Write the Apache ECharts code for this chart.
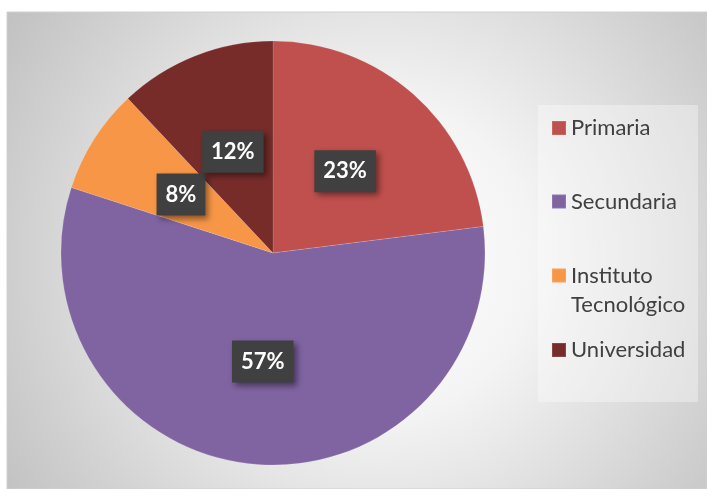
<!DOCTYPE html>
<html>
<head>
<meta charset="utf-8">
<style>
  html, body { margin: 0; padding: 0; background: #fff; }
  #chart { width: 707px; height: 489px; }
</style>
<script src="https://cdn.jsdelivr.net/npm/echarts@6/dist/echarts.min.js"></script>
</head>
<body>
<div id="chart"></div>
<script>
// data
const categories = ['Primaria', 'Secundaria', 'Instituto Tecnológico', 'Universidad']
const values = [23, 57, 8, 12]
const colors = ['#c0504d', '#8064a2', '#f79646', '#772c2a']

const FONT = 'Lato, "Noto Sans", sans-serif'

const chart = echarts.init(document.getElementById('chart'))

// one legend per entry so the rows sit where the original has them
const legendTops = [113.5, 187, 232, 335.5]
const legends = categories.map((name, i) => ({
  data: [name],
  left: 551,
  top: legendTops[i],
  padding: 0,
  itemWidth: 14,
  itemHeight: 14,
  icon: 'rect',
  selectedMode: false,
  // blank first line keeps "Instituto" level with its swatch
  formatter: (n) => (n === 'Instituto Tecnológico' ? ' \nInstituto\nTecnológico' : n),
  textStyle: {
    fontFamily: FONT,
    fontSize: 22,
    color: '#404040',
    lineHeight: 29,
  },
}))

chart.setOption({
  animation: false,
  graphic: [
    {
      type: 'rect',
      z: -10,
      silent: true,
      shape: { x: 7, y: 12, width: 700, height: 477 },
      style: {
        fill: {
          type: 'radial',
          x: 380, y: 260, r: 440,
          global: true,
          colorStops: [
            { offset: 0, color: '#ffffff' },
            { offset: 0.35, color: '#f4f4f4' },
            { offset: 1, color: '#c2c2c2' },
          ],
        },
        stroke: '#d0d0d0',
        lineWidth: 1,
      },
    },
    {
      type: 'rect',
      z: -5,
      silent: true,
      shape: { x: 538, y: 105, width: 160, height: 297 },
      style: { fill: 'rgba(255,255,255,0.35)' },
    },
  ],
  legend: legends,
  series: [
    {
      name: 'Nivel',
      type: 'pie',
      center: [273, 253],
      radius: [0, 212],
      startAngle: 90,
      clockwise: true,
      color: colors,
      data: categories.map((name, i) => ({ name, value: values[i] })),
      itemStyle: {
        borderColor: 'rgba(255,255,255,0.12)',
        borderWidth: 1,
      },
      label: {
        show: true,
        position: 'inside',
        formatter: '{d}%',
        fontFamily: FONT,
        fontSize: 22,
        fontWeight: 'bold',
        color: '#ffffff',
        lineHeight: 22,
        backgroundColor: '#404040',
        padding: [10, 9],
        shadowColor: 'rgba(0,0,0,0.45)',
        shadowBlur: 6,
        shadowOffsetX: 3,
        shadowOffsetY: 3,
      },
      labelLine: { show: false },
      emphasis: { scale: false },
    },
  ],
})

window.addEventListener('resize', () => chart.resize())
</script>
</body>
</html>
